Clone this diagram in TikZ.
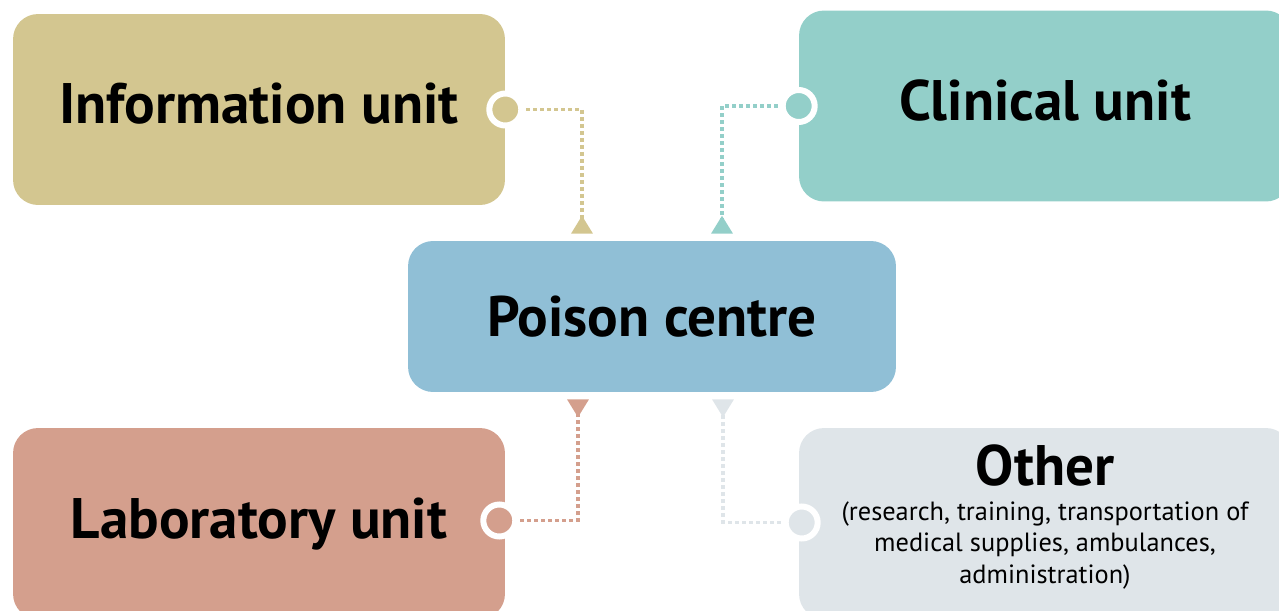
\documentclass[tikz,border=0pt]{standalone}
\usepackage{fontspec}
\setmainfont{PT Sans}
\usetikzlibrary{positioning}
\usetikzlibrary{calc}
\usetikzlibrary{arrows.meta}
\usetikzlibrary{backgrounds}
\definecolor{infocol}{HTML}{D3C690}
\definecolor{cliniccol}{HTML}{93CFC9}
\definecolor{poisoncol}{HTML}{90BFD6}
\definecolor{labcol}{HTML}{D49F8D}
\definecolor{othercol}{HTML}{DFE5E9}
\tikzset{
    unit/.style={
    minimum width=9.84cm,
    minimum height=3.82cm,
    rounded corners=0.5cm,
    align=center,
    font=\fontsize{32.5}{38}\selectfont\bfseries
    },
    raised/.style={
    text height=24pt,
    text depth=7.5pt
    },
    dot/.style={
    circle,
    draw=white,
    line width=0.12cm,
    minimum size=0.64cm,
    inner sep=0pt
    },
    link/.style={
    line width=0.07cm,
    dash pattern=on 0.08cm off 0.06cm,
    -{Triangle[reversed,length=0.36cm,width=0.42cm]}
    }
}

\begin{document}
\begin{tikzpicture}[x=0.02cm,y=0.02cm]
\useasboundingbox (0,0) rectangle (1279,610);
\clip (0,0) rectangle (1279,610);

\node [unit,fill=poisoncol,minimum width=9.76cm,minimum height=3.02cm](poison) at (652,293.5) {Poison centre};
\node [unit,raised,fill=infocol](info) at (259,500.5) {Information unit};
\node [unit,raised,fill=cliniccol](clinic) at (1045,504) {Clinical unit};
\node [unit,raised,fill=labcol](lab) at (259,86.5) {Laboratory unit};
\node [unit,fill=othercol,font=\fontsize{15}{18.1}\selectfont,text depth=10.5pt](other) at (1045,86.5)
  {{\fontsize{32.5}{38}\selectfont\bfseries Other}\\[1.5pt](research, training, transportation of\\medical supplies, ambulances,\\administration)};

\node [dot,fill=infocol](infodot) at (info.east) {};
\node [dot,fill=cliniccol](clinicdot) at (clinic.west) {};
\node [dot,fill=labcol](labdot) at ($(lab.east)+(-6,3)$) {};
\node [dot,fill=othercol](otherdot) at ($(other.west)+(3,1)$) {};

\coordinate (infotip) at ($(poison.north)+(-70,7)$);
\coordinate (clinictip) at ($(poison.north)+(70,7)$);
\coordinate (labtip) at ($(poison.south)+(-74,-7)$);
\coordinate (othertip) at ($(poison.south)+(71,-7)$);

\begin{scope}[on background layer]
\draw[link,infocol] (infodot.center) -| (infotip);
\draw[link,cliniccol] (clinicdot.center) -| (clinictip);
\draw[link,labcol] (labdot.center) -| (labtip);
\draw[link,othercol] (otherdot.center) -| (othertip);
\end{scope}

\end{tikzpicture}
\end{document}
